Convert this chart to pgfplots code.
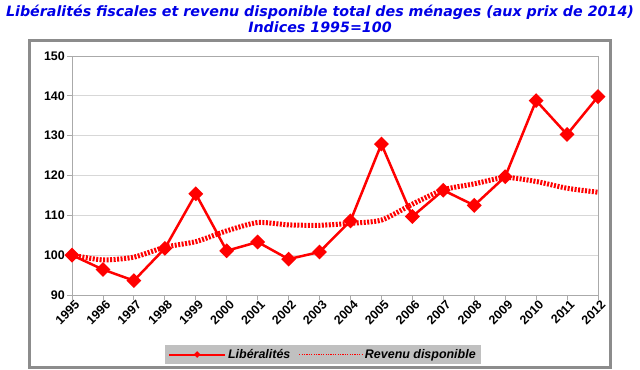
\documentclass[border=0pt]{standalone}
\usepackage{pgfplots}
\pgfplotsset{compat=1.18}
\usepackage{fontspec}
\setmainfont{Liberation Sans}
\newfontfamily\titlefont{DejaVu Sans}
\definecolor{titleblue}{RGB}{0,0,230}
\definecolor{framegray}{RGB}{140,140,140}
\definecolor{axgray}{RGB}{170,170,170}
\definecolor{gridgray}{RGB}{215,215,215}
\definecolor{leggray}{RGB}{192,192,192}
\begin{document}
\begin{tikzpicture}
\path[use as bounding box] (0bp,0bp) rectangle (640bp,370bp);
\draw[line width=3bp, framegray] (29.5bp,2.5bp) rectangle (610.5bp,329.5bp);
\node[font=\titlefont\bfseries\itshape\fontsize{14.3}{16}\selectfont, text=titleblue] at (320bp,357.5bp) {Libéralités fiscales et revenu disponible total des ménages (aux prix de 2014)};
\node[font=\titlefont\bfseries\itshape\fontsize{14.3}{16}\selectfont, text=titleblue] at (320bp,342.5bp) {Indices 1995=100};
\begin{axis}[
  at={(72bp,75bp)}, anchor=south west,
  scale only axis, width=526bp, height=239bp,
  xmin=1995, xmax=2012, ymin=90, ymax=150,
  xtick={1995,...,2012}, ytick={90,100,...,150},
  /pgf/number format/1000 sep={},
  /pgf/number format/assume math mode=true,
  axis line style={axgray, line width=0.8bp},
  ymajorgrids, grid style={gridgray, line width=0.8bp},
  tick style={axgray, line width=0.8bp},
  major tick length=5bp, tick align=outside,
  xtick pos=left, ytick pos=left,
  ticklabel style={font=\bfseries\fontsize{12.5}{14}\selectfont, text=black},
  xticklabel style={rotate=45, anchor=north east, inner sep=1bp, xshift=3bp},
  yticklabel style={inner sep=2bp},
  legend style={at={(0.477,-0.249)}, anchor=center, fill=leggray, draw=none,
    legend columns=2, font=\bfseries\itshape\fontsize{12.5}{14}\selectfont,
    inner ysep=2bp, inner xsep=3bp,
    /tikz/every even column/.append style={column sep=6bp}},
]
\addlegendimage{legend image code/.code={\draw[red, line width=2bp] (0bp,0bp) -- (56bp,0bp); \fill[red] (25bp,0bp) -- (28bp,3bp) -- (31bp,0bp) -- (28bp,-3bp) -- cycle;}}
\addlegendentry{Libéralités}
\addlegendimage{legend image code/.code={\draw[red, line width=1.6bp, dash pattern=on 1.3bp off 1.1bp] (0bp,0bp) -- (63bp,0bp);}}
\addlegendentry{Revenu disponible}
\addplot[forget plot, red, line width=5bp, dash pattern=on 2bp off 1.5bp, smooth, tension=0.4] coordinates {
(1995,100.0) (1996,98.8) (1997,99.5) (1998,102.0) (1999,103.4) (2000,106.1)
(2001,108.2) (2002,107.6) (2003,107.5) (2004,108.0) (2005,108.8) (2006,112.8)
(2007,116.4) (2008,117.9) (2009,119.5) (2010,118.5) (2011,116.8) (2012,115.8)};
\addplot[forget plot, red, line width=2.5bp, mark=square*, mark size=4bp, mark options={rotate=45, solid}] coordinates {
(1995,100.0) (1996,96.4) (1997,93.6) (1998,101.7) (1999,115.4) (2000,101.1)
(2001,103.3) (2002,99.0) (2003,100.8) (2004,108.6) (2005,127.9) (2006,109.7)
(2007,116.3) (2008,112.5) (2009,119.7) (2010,138.8) (2011,130.3) (2012,139.8)};
\end{axis}
\end{tikzpicture}
\end{document}
